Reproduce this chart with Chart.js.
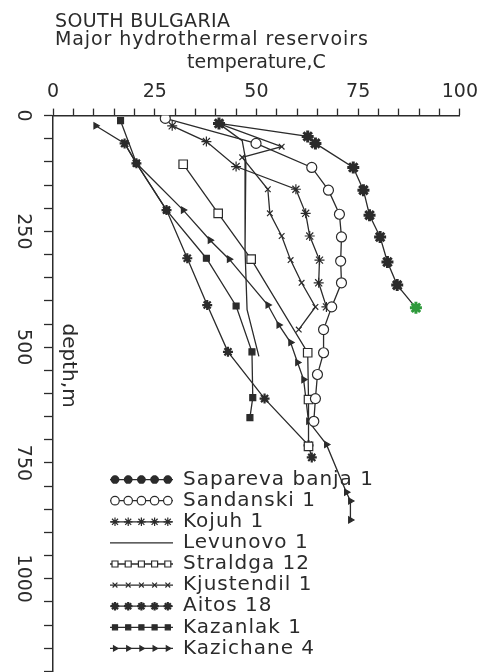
<!DOCTYPE html>
<html>
<head>
<meta charset="utf-8">
<script src="https://cdn.jsdelivr.net/npm/chart.js@4.4.1/dist/chart.umd.min.js"></script>
<style>
  body { margin: 0; background: #fff; }
  #wrap { position: relative; width: 483px; height: 672px; }
  .head { position: absolute; left: 55px; font-family: "DejaVu Sans", sans-serif; font-size: 19px; color: #2b2b2b; white-space: nowrap; line-height: 1; }
</style>
</head>
<body>
<div id="wrap">
  <canvas id="chart"></canvas>
  <div class="head" style="top:11px; letter-spacing:0.4px">SOUTH BULGARIA</div>
  <div class="head" style="top:29px; letter-spacing:0.9px">Major hydrothermal reservoirs</div>
</div>
<script>
// temperature (C) / depth (m)
const saparevaT = [40.8, 62.6, 64.5, 73.8, 76.3, 77.8, 80.4, 82.2, 84.6, 89.2];
const saparevaD = [17, 45, 60, 112, 161, 215, 262, 316, 366, 415];

const sandanskiT = [27.6, 49.9, 63.6, 67.7, 70.4, 70.9, 70.7, 70.9, 68.5, 66.5, 66.5, 65.0, 64.5, 64.1];
const sandanskiD = [6, 60, 112, 161, 213, 262, 314, 361, 413, 462, 512, 559, 611, 660];

const kojuhT = [29.3, 37.7, 45.0, 59.7, 62.1, 63.1, 65.5, 65.3, 67.2];
const kojuhD = [22, 56, 110, 159, 211, 260, 312, 361, 413];

const levunovoT = [41.0, 46.5, 47.4, 47.2, 47.7, 50.6];
const levunovoD = [19, 54, 97, 290, 419, 520];

const straldgaT = [32.0, 40.6, 48.7, 62.6, 62.8, 62.8];
const straldgaD = [105, 211, 310, 512, 613, 714];

const kjustendilT = [41.3, 56.2, 46.5, 52.8, 53.3, 56.2, 58.4, 61.1, 64.5, 60.4];
const kjustendilD = [19, 67, 90, 159, 211, 260, 312, 361, 413, 462];

const aitosT = [17.6, 20.5, 27.9, 33.0, 37.9, 43.0, 52.0, 62.8, 63.6];
const aitosD = [60, 103, 204, 308, 409, 510, 611, 712, 738];

const kazanlakT = [16.6, 20.5, 27.9, 37.7, 45.0, 48.9, 49.1, 48.4];
const kazanlakD = [11, 103, 204, 308, 411, 510, 609, 652];

const kazichaneT = [10.5, 17.6, 20.5, 32.0, 38.6, 43.3, 52.8, 55.5, 58.4, 60.1, 61.6, 62.8, 67.2, 72.1, 73.1, 73.1];
const kazichaneD = [22, 60, 103, 204, 269, 310, 409, 452, 490, 533, 570, 660, 710, 813, 832, 873];

const xTickLabels = [0, 25, 50, 75, 100];
const yTickLabels = [0, 250, 500, 750, 1000];

const ink = "#2b2b2b";
const font = '"DejaVu Sans", sans-serif';

function pts(t, d) {
    return t.map((v, i) => ({ x: v, y: d[i] }));
}

function series(label, t, d, style) {
    return Object.assign({
        label: label,
        data: pts(t, d),
        showLine: true,
        borderColor: ink,
        borderWidth: 1.3,
        pointBorderColor: ink,
        pointBackgroundColor: ink,
        pointBorderWidth: 1.2,
        pointRadius: 4,
        pointRotation: 0,
        tension: 0
    }, style);
}

const datasets = [
    series("Sapareva banja 1", saparevaT, saparevaD, {
        pointStyle: "star", pointRadius: 6, pointBorderWidth: 3,
        pointBorderColor: saparevaT.map((_, i) => i === saparevaT.length - 1 ? "#2f9a3c" : ink)
    }),
    series("Sandanski 1", sandanskiT, sandanskiD, { pointStyle: "circle", pointRadius: 5, pointBackgroundColor: "#fff" }),
    series("Kojuh 1", kojuhT, kojuhD, { pointStyle: "star", pointRadius: 5 }),
    series("Levunovo 1", levunovoT, levunovoD, { pointRadius: 0 }),
    series("Straldga 12", straldgaT, straldgaD, { pointStyle: "rect", pointRadius: 6, pointBackgroundColor: "#fff" }),
    series("Kjustendil 1", kjustendilT, kjustendilD, { pointStyle: "crossRot", pointRadius: 4 }),
    series("Aitos 18", aitosT, aitosD, { pointStyle: "star", pointRadius: 5, pointBorderWidth: 2.2 }),
    series("Kazanlak 1", kazanlakT, kazanlakD, { pointStyle: "rect", pointRadius: 4.2 }),
    series("Kazichane 4", kazichaneT, kazichaneD, { pointStyle: "triangle", pointRadius: 3.5, pointRotation: 90 })
];

// rotated y labels, "depth,m" and the line-sample legend
const overlay = {
    id: "overlay",
    afterDraw(chart) {
        const { ctx, chartArea, scales } = chart;
        const y = scales.y;
        ctx.save();
        ctx.fillStyle = ink;
        ctx.font = "19px " + font;
        ctx.textAlign = "center";
        ctx.textBaseline = "middle";
        yTickLabels.forEach(v => {
            ctx.save();
            ctx.translate(chartArea.left - 30, y.getPixelForValue(v));
            ctx.rotate(Math.PI / 2);
            ctx.fillText(String(v), 0, 0);
            ctx.restore();
        });

        ctx.save();
        ctx.font = "20px " + font;
        ctx.translate(chartArea.left + 15.5, chartArea.top + 250);
        ctx.rotate(Math.PI / 2);
        ctx.fillText("depth,m", 0, 0);
        ctx.restore();

        ctx.font = "20px " + font;
        ctx.letterSpacing = "1px";
        ctx.textAlign = "left";
        chart.data.datasets.forEach((ds, i) => {
            const yy = chartArea.top + 364 + i * 21.1;
            const x0 = chartArea.left + 57;
            const x1 = chartArea.left + 120;
            ctx.strokeStyle = ds.borderColor;
            ctx.lineWidth = ds.borderWidth;
            ctx.beginPath();
            ctx.moveTo(x0, yy);
            ctx.lineTo(x1, yy);
            ctx.stroke();
            if (ds.pointRadius > 0 && Chart.helpers && Chart.helpers.drawPoint) {
                for (let k = 0; k < 5; k++) {
                    ctx.fillStyle = ds.pointBackgroundColor;
                    ctx.strokeStyle = ink;
                    ctx.lineWidth = ds.pointBorderWidth;
                    Chart.helpers.drawPoint(ctx, {
                        pointStyle: ds.pointStyle,
                        radius: Math.min(ds.pointRadius, 5) * 0.85,
                        rotation: ds.pointRotation,
                        borderWidth: ds.pointBorderWidth
                    }, x0 + 5 + k * 13.2, yy);
                }
            }
            ctx.fillStyle = ink;
            ctx.fillText(ds.label, x1 + 10, yy);
        });
        ctx.restore();
    }
};

new Chart(document.getElementById("chart"), {
    type: "scatter",
    data: { datasets: datasets },
    options: {
        responsive: true,
        maintainAspectRatio: false,
        animation: false,
        layout: { autoPadding: false, padding: { left: 44, top: 52, right: 21, bottom: 0 } },
        plugins: { legend: { display: false }, tooltip: { enabled: false } },
        scales: {
            x: {
                type: "linear", position: "top", min: 0, max: 100,
                ticks: {
                    stepSize: 5, autoSkip: false, maxRotation: 0, padding: 5,
                    color: ink, font: { family: font, size: 19 },
                    callback: v => xTickLabels.includes(v) ? String(v) : ""
                },
                grid: { drawOnChartArea: false, tickLength: 7, color: ink, tickWidth: 1.3 },
                border: { color: ink, width: 1.5 },
                title: {
                    display: true, text: "temperature,C", color: ink,
                    font: { family: font, size: 19 }, padding: { top: 0, bottom: 1 }
                }
            },
            y: {
                type: "linear", reverse: true, min: 0, max: 1200,
                ticks: { stepSize: 50, autoSkip: false, padding: 0, font: { size: 1 }, callback: () => "" },
                grid: { drawOnChartArea: false, tickLength: 9, color: ink, tickWidth: 1.3 },
                border: { color: ink, width: 1.5 }
            }
        }
    },
    plugins: [overlay]
});
</script>
</body>
</html>
